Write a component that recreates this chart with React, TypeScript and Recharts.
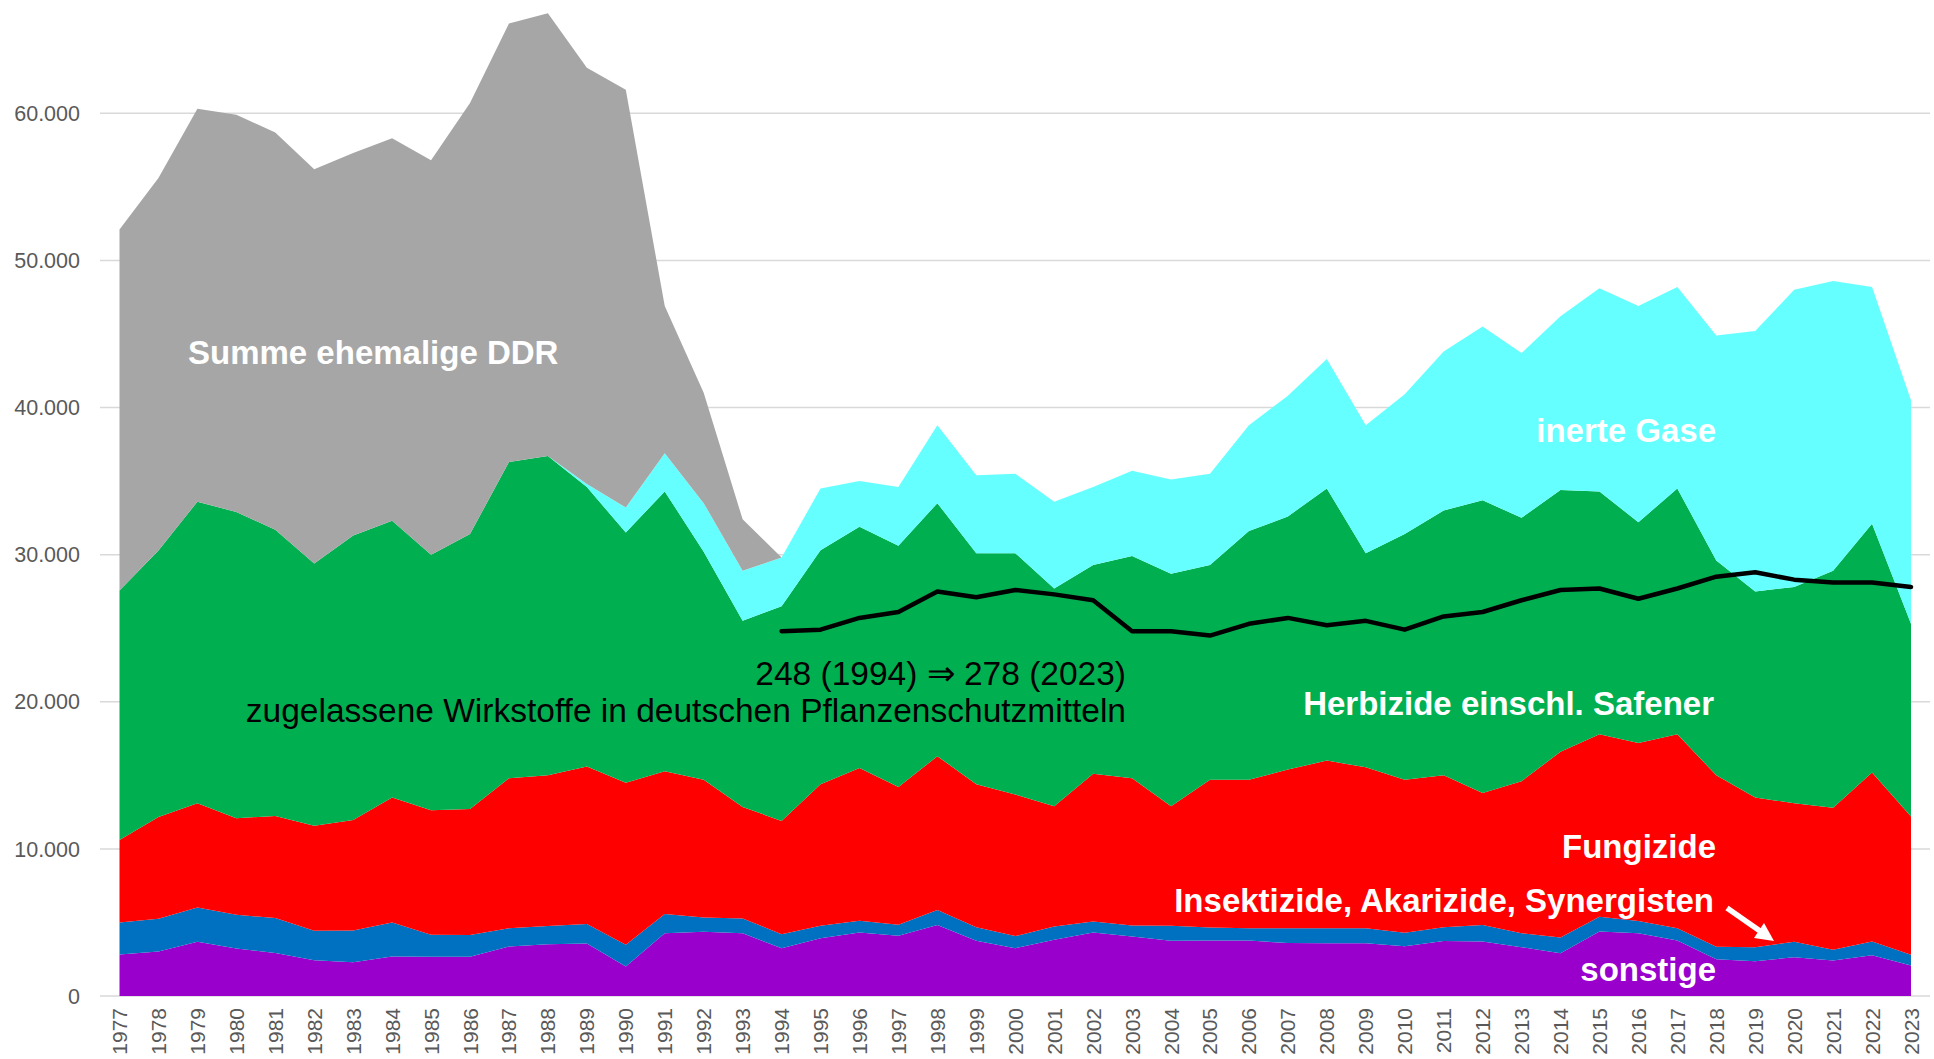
import { ComposedChart, Area, Line, XAxis, YAxis, CartesianGrid } from "recharts";

const years = [
  "1977", "1978", "1979", "1980", "1981", "1982", "1983", "1984", "1985", "1986",
  "1987", "1988", "1989", "1990", "1991", "1992", "1993", "1994", "1995", "1996",
  "1997", "1998", "1999", "2000", "2001", "2002", "2003", "2004", "2005", "2006",
  "2007", "2008", "2009", "2010", "2011", "2012", "2013", "2014", "2015", "2016",
  "2017", "2018", "2019", "2020", "2021", "2022", "2023",
];

// Tonnen Wirkstoff
const sonstige = [
  2820, 3020, 3680, 3230, 2930, 2430, 2300, 2680, 2660, 2660,
  3360, 3520, 3570, 2000, 4270, 4360, 4270, 3250, 3930, 4320,
  4090, 4820, 3750, 3250, 3820, 4320, 4050, 3750, 3770, 3770,
  3600, 3590, 3590, 3390, 3730, 3700, 3320, 2910, 4390, 4270,
  3770, 2500, 2360, 2640, 2410, 2770, 2070,
];
const insektizide = [
  2180, 2230, 2340, 2290, 2370, 2000, 2150, 2320, 1500, 1480,
  1250, 1230, 1320, 1480, 1300, 980, 1000, 950, 840, 790,
  750, 1020, 930, 820, 910, 750, 750, 1020, 890, 840,
  1000, 1010, 1010, 910, 950, 1120, 950, 1070, 1000, 820,
  840, 840, 960, 1040, 730, 930, 730,
];
const fungizide = [
  5600, 6910, 7080, 6560, 6940, 7140, 7510, 8500, 8470, 8570,
  10190, 10250, 10710, 11020, 9710, 9360, 7580, 7700, 9630, 10390,
  9360, 10460, 9720, 9630, 8170, 10030, 10000, 8130, 10040, 10090,
  10800, 11400, 10950, 10400, 10320, 8980, 10330, 12620, 12410, 12110,
  13190, 11660, 10180, 9420, 9660, 11500, 9400,
];
const herbizide = [
  16960, 18120, 20500, 20820, 19460, 17830, 19340, 18800, 17370, 18690,
  21500, 21700, 19000, 17000, 19020, 15500, 12650, 14600, 15900, 16400,
  16400, 17200, 15700, 16400, 14800, 14200, 15100, 15800, 14600, 16900,
  17200, 18500, 14550, 16700, 18000, 19900, 17900, 17800, 16500, 15000,
  16700, 14600, 14000, 14700, 16100, 16900, 13100,
];
const inerteGase = [
  0, 0, 0, 0, 0, 0, 0, 0, 0, 0,
  0, 0, 200, 1700, 2600, 3300, 3400, 3300, 4200, 3100,
  4000, 5300, 5300, 5400, 5900, 5300, 5800, 6400, 6200, 7200,
  8200, 8800, 8700, 9500, 10800, 11800, 11200, 11800, 13800, 14700,
  13700, 15300, 17700, 20200, 19700, 16100, 15200,
];
const summeDDR = [
  24540, 25320, 26700, 27000, 27000, 26800, 26000, 26000, 26800, 29300,
  29800, 30100, 28300, 28400, 10000, 7500, 3500, 0, 0, 0,
  0, 0, 0, 0, 0, 0, 0, 0, 0, 0,
  0, 0, 0, 0, 0, 0, 0, 0, 0, 0,
  0, 0, 0, 0, 0, 0, 0,
];
// Anzahl zugelassener Wirkstoffe (ab 1994), im Diagramm x100
const wirkstoffe: (number | null)[] = [
  null, null, null, null, null, null, null, null, null, null,
  null, null, null, null, null, null, null, 248, 249, 257,
  261, 275, 271, 276, 273, 269, 248, 248, 245, 253,
  257, 252, 255, 249, 258, 261, 269, 276, 277, 270,
  277, 285, 288, 283, 281, 281, 278,
];

const yMax = 67700;
const yTicks = [0, 10000, 20000, 30000, 40000, 50000, 60000];

const data = years.map((year, i) => ({
  year,
  sonstige: sonstige[i],
  insektizide: insektizide[i],
  fungizide: fungizide[i],
  herbizide: herbizide[i],
  inerteGase: inerteGase[i],
  summeDDR: summeDDR[i],
  wirkstoffe: wirkstoffe[i] == null ? null : (wirkstoffe[i] as number) * 100,
}));

const FONT = '"Liberation Sans", Arial, Helvetica, sans-serif';

const fmt = (v: number) => String(v).replace(/\B(?=(\d{3})+(?!\d))/g, ".");

// only the labelled ticks get a gridline (none at the top edge)
const gridRows = ({ offset }: any) =>
  yTicks.map((t) => offset.top + offset.height * (1 - t / yMax));

function YearTick({ x, y, payload }: any) {
  return (
    <text
      transform={`translate(${x + 7.5},${y + 6}) rotate(-90)`}
      textAnchor="end"
      fill="#595959"
      fontSize={21}
      fontFamily={FONT}
    >
      {payload.value}
    </text>
  );
}

export default function App() {
  const label = { fill: "#ffffff", fontSize: 33, fontWeight: 700, fontFamily: FONT };
  const note = { fill: "#000000", fontSize: 33.5, fontFamily: FONT };
  return (
    <div style={{ position: "absolute", left: 0, top: 0, width: 1934, height: 1059, background: "#fff" }}>
      <ComposedChart width={1934} height={1059} data={data} margin={{ top: 0, right: 4, left: 0, bottom: 0 }}>
        <CartesianGrid
          vertical={false}
          stroke="#d9d9d9"
          strokeWidth={1.5}
          horizontalCoordinatesGenerator={gridRows}
        />
        <XAxis
          dataKey="year"
          interval={0}
          height={63}
          padding={{ left: 19.5, right: 19 }}
          axisLine={false}
          tickLine={false}
          tickMargin={0}
          tick={<YearTick />}
        />
        <YAxis
          width={100}
          domain={[0, yMax]}
          ticks={yTicks}
          allowDataOverflow
          axisLine={false}
          tickLine={false}
          tickMargin={14}
          tickFormatter={fmt}
          tick={{ fill: "#595959", fontSize: 21.5, fontFamily: FONT }}
        />
        <Area type="linear" dataKey="sonstige" stackId="a" stroke="none" fill="#9900cc" fillOpacity={1} isAnimationActive={false} />
        <Area type="linear" dataKey="insektizide" stackId="a" stroke="none" fill="#0070c0" fillOpacity={1} isAnimationActive={false} />
        <Area type="linear" dataKey="fungizide" stackId="a" stroke="none" fill="#ff0000" fillOpacity={1} isAnimationActive={false} />
        <Area type="linear" dataKey="herbizide" stackId="a" stroke="none" fill="#00b050" fillOpacity={1} isAnimationActive={false} />
        <Area type="linear" dataKey="inerteGase" stackId="a" stroke="none" fill="#66ffff" fillOpacity={1} isAnimationActive={false} />
        <Area type="linear" dataKey="summeDDR" stackId="a" stroke="none" fill="#a6a6a6" fillOpacity={1} isAnimationActive={false} />
        <Line
          type="linear"
          dataKey="wirkstoffe"
          stroke="#000000"
          strokeWidth={4.5}
          strokeLinecap="round"
          strokeLinejoin="round"
          dot={false}
          isAnimationActive={false}
        />
      </ComposedChart>
      <svg width={1934} height={1059} style={{ position: "absolute", left: 0, top: 0, pointerEvents: "none" }}>
        <text x={188} y={364} {...label}>Summe ehemalige DDR</text>
        <text x={1716} y={442} textAnchor="end" {...label}>inerte Gase</text>
        <text x={1714} y={715} textAnchor="end" {...label}>Herbizide einschl. Safener</text>
        <text x={1716} y={858} textAnchor="end" {...label}>Fungizide</text>
        <text x={1714} y={912} textAnchor="end" {...label}>Insektizide, Akarizide, Synergisten</text>
        <text x={1716} y={981} textAnchor="end" {...label}>sonstige</text>
        <text x={1126} y={685} textAnchor="end" {...note}>248 (1994) ⇒ 278 (2023)</text>
        <text x={1126} y={722} textAnchor="end" {...note}>zugelassene Wirkstoffe in deutschen Pflanzenschutzmitteln</text>
        <line x1={1727} y1={908} x2={1760} y2={931} stroke="#ffffff" strokeWidth={5.5} />
        <polygon points="1774,941 1754,938 1764,923" fill="#ffffff" />
      </svg>
    </div>
  );
}
